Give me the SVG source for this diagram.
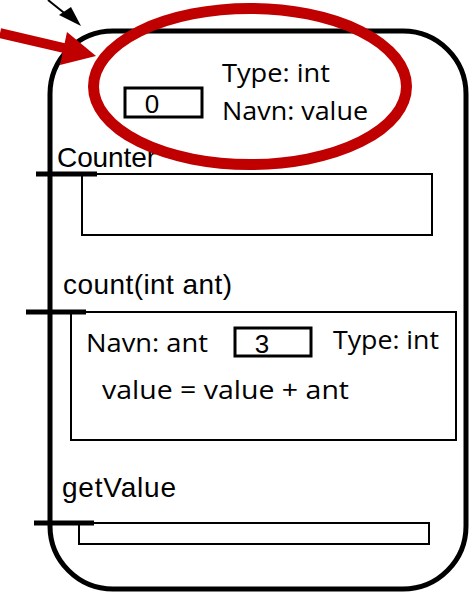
<svg xmlns="http://www.w3.org/2000/svg" width="469" height="592" viewBox="0 0 469 592">
  <style>
    .outer { fill: none; stroke: #000; stroke-width: 5; }
    .box { fill: #fff; stroke: #000; stroke-width: 2; }
    .vbox { fill: #fff; stroke: #000; stroke-width: 3; }
    .tick { stroke: #000; stroke-width: 5; }
    .lbl { font-family: "Liberation Sans", Arial, sans-serif; font-size: 28px; fill: #000; }
    .cal { font-family: "Open Sans", "Liberation Sans", sans-serif; font-size: 25px; fill: #000; }
    .num { font-family: "Liberation Sans", Arial, sans-serif; font-size: 26px; fill: #000; text-anchor: middle; }
  </style>

  <g id="object">
    <rect class="outer" x="50" y="31" width="416" height="558" rx="63" ry="63"/>
  </g>

  <g id="field-value">
    <rect class="vbox" x="125" y="88" width="77" height="29"/>
    <text class="num" x="152" y="113">0</text>
    <text class="cal" x="222" y="82" textLength="108" lengthAdjust="spacingAndGlyphs">Type: int</text>
    <text class="cal" x="222" y="120" textLength="146" lengthAdjust="spacingAndGlyphs">Navn: value</text>
  </g>

  <g id="constructor">
    <text class="lbl" x="57" y="167" textLength="99" lengthAdjust="spacing">Counter</text>
    <rect class="box" x="82" y="174" width="350" height="61"/>
    <line class="tick" x1="36" y1="174" x2="97" y2="174"/>
  </g>

  <g id="method-count">
    <text class="lbl" x="63" y="294" textLength="169" lengthAdjust="spacing">count(int ant)</text>
    <rect class="box" x="71" y="312" width="385" height="128"/>
    <line class="tick" x1="26" y1="312" x2="86" y2="312"/>
    <text class="cal" x="86" y="352" textLength="122" lengthAdjust="spacingAndGlyphs">Navn: ant</text>
    <rect class="vbox" x="235" y="328" width="76" height="28"/>
    <text class="num" x="262" y="353">3</text>
    <text class="cal" x="333" y="349" textLength="106" lengthAdjust="spacingAndGlyphs">Type: int</text>
    <text class="cal" x="102" y="399" textLength="247" lengthAdjust="spacingAndGlyphs">value = value + ant</text>
  </g>

  <g id="method-getValue">
    <text class="lbl" x="62" y="497" textLength="114" lengthAdjust="spacing">getValue</text>
    <rect class="box" x="79" y="523" width="350" height="21"/>
    <line class="tick" x1="34" y1="523" x2="94" y2="523"/>
  </g>

  <g id="connectors">
    <line x1="48" y1="0" x2="68" y2="16" stroke="#000" stroke-width="2"/>
    <polygon points="81,26 59,15 71,7" fill="#000"/>
    <line x1="0" y1="33" x2="66" y2="48.5" stroke="#C00000" stroke-width="10"/>
    <polygon points="96,56 67,32 60,65" fill="#C00000"/>
    <ellipse cx="250" cy="86.5" rx="156.5" ry="78" fill="none" stroke="#C00000" stroke-width="11"/>
  </g>
</svg>
